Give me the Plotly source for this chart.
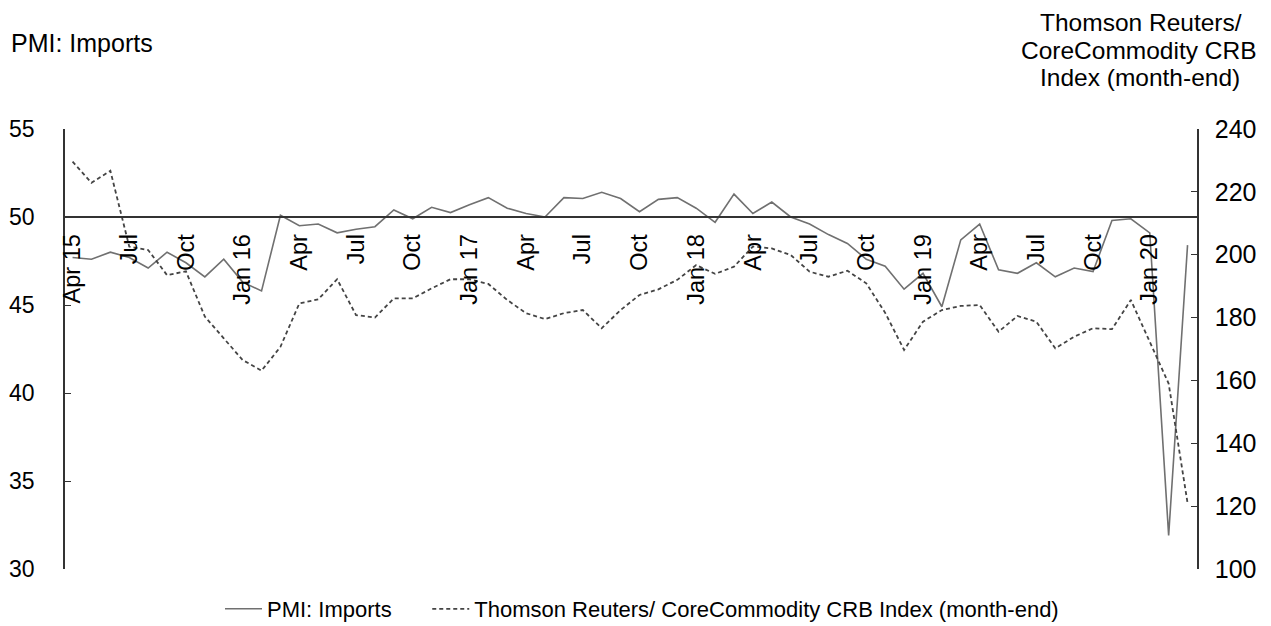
import plotly.graph_objects as go
import pandas as pd

months = [d.strftime("%Y-%m") for d in pd.date_range("2015-04-01", "2020-03-01", freq="MS")]

pmi_imports = [47.7, 47.6, 48.0, 47.7, 47.1, 48.0, 47.4, 46.6, 47.6,
               46.3, 45.8, 50.1, 49.5, 49.6, 49.1, 49.3, 49.45, 50.4, 49.9, 50.55, 50.25,
               50.7, 51.1, 50.5, 50.2, 50.0, 51.1, 51.05, 51.4, 51.05, 50.3, 51.0, 51.1,
               50.5, 49.7, 51.3, 50.2, 50.85, 50.0, 49.6, 49.0, 48.5, 47.6, 47.2, 45.9,
               46.8, 44.9, 48.7, 49.6, 47.0, 46.8, 47.4, 46.6, 47.1, 46.9, 49.8, 49.9,
               49.1, 31.9, 48.4]

crb_index = [229.6, 222.9, 226.7, 202.6, 201.5, 193.5, 194.7, 180.3, 173.4,
             166.5, 163.1, 170.7, 184.5, 185.8, 192.2, 180.8, 180.0, 186.1, 186.1, 189.3, 192.2,
             192.2, 190.7, 185.6, 181.4, 179.5, 181.4, 182.4, 176.6, 182.4, 187.2, 189.0, 192.0,
             196.7, 193.9, 196.2, 202.6, 202.0, 199.9, 194.6, 193.0, 194.9, 190.9, 181.5, 169.7,
             178.7, 182.4, 183.7, 184.0, 175.5, 180.5, 178.7, 170.2, 173.9, 176.6, 176.3, 185.6,
             172.3, 159.0, 121.0]

tick_months = months[::3]
tick_labels = ["Apr 15", "Jul", "Oct", "Jan 16", "Apr", "Jul", "Oct", "Jan 17", "Apr", "Jul", "Oct",
               "Jan 18", "Apr", "Jul", "Oct", "Jan 19", "Apr", "Jul", "Oct", "Jan 20"]

FONT = "Liberation Sans, Arial, sans-serif"

# the page body adds an 8px offset; positions below are screen targets minus 8
OFF = 8
W, H = 1271, 626
ML = 65 - OFF
MT = 129 - OFF
MR = W - (1197 - OFF)
MB = 0
PW = W - ML - MR
PH = H - MT - MB


def px_x(px):
    return (px - OFF - ML) / PW


def px_y(py):
    return (H - MB - (py - OFF)) / PH


fig = go.Figure()
fig.add_trace(go.Scatter(x=months, y=pmi_imports, name="PMI: Imports\u00a0\u00a0\u00a0\u00a0\u00a0",
                         mode="lines", line=dict(color="#707070", width=1.6), yaxis="y"))
fig.add_trace(go.Scatter(x=months, y=crb_index,
                         name="Thomson Reuters/ CoreCommodity CRB Index (month-end)", mode="lines",
                         line=dict(color="#444444", width=1.8, dash="4px,3px"), yaxis="y2"))

fig.update_layout(
    width=W, height=H,
    margin=dict(l=ML, r=MR, t=MT, b=MB, autoexpand=False),
    paper_bgcolor="white", plot_bgcolor="white",
    font=dict(family=FONT, size=23, color="black"),
    showlegend=True,
    legend=dict(orientation="h", x=px_x(220), xanchor="left", y=px_y(609), yanchor="middle",
                font=dict(size=22), itemwidth=37, tracegroupgap=0),
    xaxis=dict(type="category", range=[-0.4, 59.5], anchor="free", position=px_y(217),
               showline=True, linecolor="#333333", linewidth=1.5, ticks="",
               tickmode="array", tickvals=tick_months, ticktext=tick_labels,
               tickangle=-90, ticklabelstandoff=7, showgrid=False, zeroline=False,
               tickfont=dict(size=23.5), automargin=False),
    yaxis=dict(domain=[px_y(569), 1], range=[30, 55], dtick=5, showline=True,
               linecolor="#333333", linewidth=1.5,
               ticks="inside", ticklen=6, tickcolor="#333333", showgrid=False, zeroline=False,
               ticklabelstandoff=24, automargin=False, tickfont=dict(size=23)),
    yaxis2=dict(range=[100, 240], dtick=20, overlaying="y", side="right", showline=True,
                linecolor="#333333", linewidth=1.5, ticks="inside", ticklen=6, tickcolor="#333333",
                showgrid=False, zeroline=False, ticklabelstandoff=11, automargin=False,
                tickfont=dict(size=25)),
    annotations=[
        dict(text="PMI: Imports", xref="paper", yref="paper", x=px_x(9), y=px_y(43),
             xanchor="left", yanchor="middle", showarrow=False, font=dict(size=25)),
        dict(text="Thomson Reuters/", xref="paper", yref="paper", x=px_x(1141), y=px_y(22.5),
             xanchor="center", yanchor="middle", showarrow=False, font=dict(size=24.5), borderpad=0),
        dict(text="CoreCommodity CRB", xref="paper", yref="paper", x=px_x(1139), y=px_y(50),
             xanchor="center", yanchor="middle", showarrow=False, font=dict(size=24.5), borderpad=0),
        dict(text="Index (month-end)", xref="paper", yref="paper", x=px_x(1140), y=px_y(77.5),
             xanchor="center", yanchor="middle", showarrow=False, font=dict(size=24.5), borderpad=0),
    ],
)

fig.write_html("out.html")
